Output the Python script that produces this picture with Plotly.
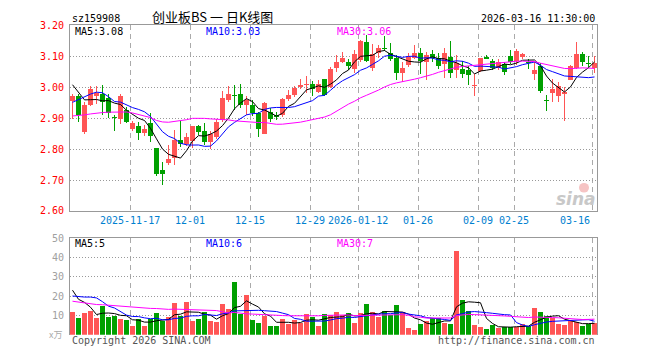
import pandas as pd
import plotly.graph_objects as go

# ---------------- data ----------------
holidays = ["2026-01-01", "2026-01-02", "2026-02-16", "2026-02-17", "2026-02-18",
            "2026-02-19", "2026-02-20", "2026-02-23"]
dates = [d.strftime("%Y-%m-%d") for d in pd.bdate_range("2025-11-03", "2026-03-16")
         if d.strftime("%Y-%m-%d") not in holidays]

tick_dates = ["2025-11-17", "2025-12-01", "2025-12-15", "2025-12-29", "2026-01-12",
              "2026-01-26", "2026-02-09", "2026-02-25", "2026-03-16"]
tick_text = ["2025-11-17", "12-01", "12-15", "12-29", "2026-01-12",
             "01-26", "02-09", "02-25", "03-16"]

open_ = [2.956, 2.970, 2.855, 2.941, 2.970, 2.979, 2.964, 2.905, 2.897, 2.925,
         2.866, 2.876, 2.852, 2.885, 2.802, 2.732, 2.755, 2.772, 2.829, 2.816,
         2.825, 2.876, 2.857, 2.823, 2.838, 2.893, 2.960, 2.976, 2.977, 2.942,
         2.943, 2.915, 2.848, 2.920, 2.909, 2.910, 2.963, 2.976, 3.000, 3.007,
         3.011, 2.984, 3.025, 3.001, 3.062, 3.080, 3.080, 3.058, 3.087, 3.145,
         3.062, 3.112, 3.125, 3.109, 3.096, 3.047, 3.072, 3.096, 3.111, 3.080,
         3.106, 3.096, 3.074, 3.097, 3.055, 3.059, 3.054, 3.005, 3.052, 3.099,
         3.085, 3.061, 3.075, 3.101, 3.084, 3.097, 3.080, 3.044, 3.070, 2.956,
         2.982, 2.973, 2.978, 3.024, 3.063, 3.106, 3.077, 3.062]
high = [2.977, 2.977, 2.951, 3.005, 3.005, 3.006, 2.977, 2.911, 2.977, 2.935,
        2.890, 2.889, 2.878, 2.915, 2.802, 2.758, 2.814, 2.862, 2.891, 2.852,
        2.876, 2.879, 2.885, 2.859, 2.897, 2.988, 3.003, 3.008, 3.011, 2.970,
        2.958, 2.920, 2.952, 2.932, 2.920, 2.966, 2.990, 3.003, 3.027, 3.037,
        3.019, 3.022, 3.026, 3.066, 3.105, 3.113, 3.091, 3.119, 3.153, 3.169,
        3.141, 3.138, 3.164, 3.143, 3.105, 3.080, 3.111, 3.137, 3.126, 3.114,
        3.120, 3.110, 3.126, 3.149, 3.103, 3.085, 3.070, 3.044, 3.096, 3.105,
        3.090, 3.090, 3.080, 3.120, 3.123, 3.112, 3.092, 3.081, 3.077, 2.976,
        3.025, 3.017, 3.000, 3.071, 3.146, 3.115, 3.102, 3.102]
low = [2.897, 2.886, 2.850, 2.939, 2.946, 2.911, 2.901, 2.857, 2.880, 2.883,
       2.859, 2.829, 2.842, 2.824, 2.714, 2.685, 2.748, 2.748, 2.807, 2.810,
       2.805, 2.845, 2.814, 2.800, 2.832, 2.889, 2.953, 2.925, 2.933, 2.909,
       2.908, 2.840, 2.848, 2.889, 2.894, 2.904, 2.956, 2.967, 2.995, 2.981,
       2.972, 2.980, 2.970, 2.999, 3.050, 3.078, 3.054, 3.045, 3.082, 3.080,
       3.053, 3.095, 3.118, 3.085, 3.023, 3.016, 3.065, 3.090, 3.044, 3.023,
       3.080, 3.060, 3.029, 3.029, 3.030, 3.030, 3.007, 2.971, 3.050, 3.090,
       3.055, 3.055, 3.040, 3.075, 3.071, 3.092, 3.060, 3.024, 2.981, 2.924,
       2.952, 2.952, 2.890, 3.023, 3.060, 3.070, 3.061, 3.045]
close = [2.972, 2.911, 2.943, 2.993, 2.982, 2.951, 2.915, 2.902, 2.970, 2.889,
         2.885, 2.852, 2.866, 2.842, 2.720, 2.720, 2.767, 2.829, 2.818, 2.839,
         2.876, 2.855, 2.822, 2.849, 2.889, 2.964, 2.977, 2.973, 2.941, 2.960,
         2.916, 2.864, 2.949, 2.897, 2.905, 2.963, 2.976, 2.999, 3.008, 3.011,
         2.993, 3.011, 2.974, 3.060, 3.080, 3.096, 3.067, 3.106, 3.150, 3.086,
         3.107, 3.127, 3.123, 3.090, 3.047, 3.061, 3.099, 3.111, 3.085, 3.103,
         3.093, 3.070, 3.109, 3.045, 3.078, 3.044, 3.039, 3.008, 3.093, 3.091,
         3.061, 3.080, 3.049, 3.082, 3.118, 3.107, 3.077, 3.056, 2.987, 2.954,
         2.993, 3.004, 2.985, 3.069, 3.106, 3.080, 3.075, 3.078]
volume = [11.5, 8.5, 11, 12.5, 8.5, 15, 9, 9.5, 8, 7.5,
          4.5, 8, 4.5, 8, 11, 7, 9, 16.5, 9.5, 17,
          7, 8, 11.5, 7, 6.5, 16, 13.5, 27, 10.5, 20.5,
          7.5, 6, 9.5, 4.5, 4.5, 8, 5.5, 7.5, 6, 10.5,
          9, 4.5, 10.5, 10, 11.5, 10, 11, 6, 11, 16,
          11.5, 9, 12.5, 10, 15.5, 11.5, 3.5, 2.5, 5.5, 7,
          8.5, 8.5, 6, 5.5, 43.5, 18, 12, 5, 4, 3,
          5, 3.5, 4, 4, 4, 5.5, 4.5, 14, 11.5, 9.5,
          8.5, 5.5, 5, 7, 6.5, 4.5, 5.5, 6]

# sessions before the visible window (only used to seed the moving averages)
pre_close = [2.87, 2.88, 2.90, 2.89, 2.91, 2.88, 2.89, 2.90,
             2.95, 2.98, 3.00, 3.01, 3.00, 3.00,
             2.86, 2.80, 2.76, 2.74, 2.74, 2.74,
             2.82, 2.86, 2.90, 2.92,
             2.971, 3.041, 3.058, 2.99, 2.979]
pre_volume = [22, 24, 26, 20, 18, 17, 15, 14, 16, 13, 15, 14, 12, 13, 15, 14, 12, 13, 12, 14,
              12, 13, 12.5, 13, 34.5, 32, 19, 25, 27.5]

ma_periods = [5, 10, 30]
ma_colors = ["#000000", "#0000ff", "#ff00ff"]
price_ma_text = ["MA5:3.08", "MA10:3.03", "MA30:3.06"]
vol_ma_text = ["MA5:5", "MA10:6", "MA30:7"]

# ---------------- geometry helpers ----------------
W, H = 660, 360
PL, PR = 70, 597
STEP = 6.0
MONO = "DejaVu Sans Mono"


def fx(px):
    return px / W


def fy(py):
    return 1 - py / H


n = len(dates)
xi = list(range(n))
x_lo = -(2.5 / STEP)
x_range = [x_lo, x_lo + (PR - PL) / STEP]
grid_x = [dates.index(d) - 2.5 / STEP for d in tick_dates]

RED, GREEN = "#ff5555", "#00a000"
colors = [RED if c >= o else GREEN for o, c in zip(open_, close)]

c_all = pd.Series(pre_close + close)
v_all = pd.Series(pre_volume + volume)
npre = len(pre_close)

fig = go.Figure()

# wicks
fig.add_trace(go.Bar(x=xi, base=low, y=[h - l for h, l in zip(high, low)], width=1 / STEP,
                     marker=dict(color=colors, line=dict(width=0)), xaxis="x", yaxis="y",
                     hoverinfo="skip"))
# bodies
fig.add_trace(go.Bar(x=xi, base=[min(o, c) for o, c in zip(open_, close)],
                     y=[max(abs(c - o), 0.0032) for o, c in zip(open_, close)],
                     width=5 / STEP, marker=dict(color=colors, line=dict(width=0)),
                     xaxis="x", yaxis="y"))
for p, col in zip(ma_periods, ma_colors):
    ma = c_all.rolling(p).mean().iloc[npre:].tolist()
    fig.add_trace(go.Scatter(x=xi, y=ma, mode="lines", line=dict(color=col, width=1),
                             xaxis="x", yaxis="y"))

# volume
fig.add_trace(go.Bar(x=xi, y=volume, width=5 / STEP, marker=dict(color=colors, line=dict(width=0)),
                     xaxis="x2", yaxis="y2"))
for p, col in zip(ma_periods, ma_colors):
    ma = v_all.rolling(p).mean().iloc[npre:].tolist()
    fig.add_trace(go.Scatter(x=xi, y=ma, mode="lines", line=dict(color=col, width=1),
                             xaxis="x2", yaxis="y2"))

common_x = dict(domain=[fx(PL), fx(PR)], range=x_range, tickvals=grid_x, showticklabels=False,
                ticks="", showgrid=True, gridcolor="#aaaaaa", griddash="5px,4px", gridwidth=1,
                zeroline=False, fixedrange=True)

annotations = []


def text(s, px, py, color="#000000", size=10, anchor="left", family=MONO, xref="paper", xv=None):
    annotations.append(dict(text=s, x=(fx(px) if xv is None else xv), y=fy(py), xref=xref,
                            yref="paper", xanchor=anchor, yanchor="middle", showarrow=False,
                            font=dict(family=family, size=size, color=color)))


text("sz159908", 70, 13)
text("创业板BS 一 日K线图", 150, 11, size=13, family="Noto Sans CJK SC")
text("2026-03-16 11:30:00", 597, 13, anchor="right")
for s, col, px in zip(price_ma_text, ma_colors, [73, 204, 335]):
    text(s, px, 26, color=col)
for s, col, px in zip(vol_ma_text, ma_colors, [73, 204, 335]):
    text(s, px, 245.5, color=col)
for j, (g, t) in enumerate(zip(grid_x, tick_text)):
    text(t, 0, 222, color="#0080d0", anchor=("right" if j == len(grid_x) - 1 else "center"),
         xref="x", xv=g)
text("Copyright 2026 SINA.COM", 70, 346.5, color="#555555")
text("http://finance.sina.com.cn", 597, 346.5, color="#555555", anchor="right")
text("x万", 64, 340, color="#aaaaaa", anchor="right", family="Noto Sans CJK SC", size=9)
# watermark
text("<b><i>sina</i></b>", 598, 200, color="#c8c8c8", size=17, anchor="right", family="DejaVu Sans")

# watermark logo "eye" (decoration)
shapes = [dict(type="circle", xref="paper", yref="paper", x0=fx(579), x1=fx(589),
               y0=fy(193), y1=fy(183), fillcolor="#f6c4c4", line=dict(width=0), layer="above")]

fig.update_layout(
    width=W, height=H, autosize=False,
    margin=dict(l=0, r=0, t=0, b=0, pad=0),
    paper_bgcolor="white", plot_bgcolor="white",
    barmode="overlay", bargap=0, showlegend=False,
    xaxis=dict(anchor="y", showline=True, mirror=True, linecolor="#999999", linewidth=1, **common_x),
    yaxis=dict(domain=[fy(212), fy(20)], range=[2.6, 3.2],
               tickvals=[2.6, 2.7, 2.8, 2.9, 3.0, 3.1, 3.2],
               ticktext=["2.60", "2.70", "2.80", "2.90", "3.00", "3.10", "3.20"],
               tickfont=dict(family=MONO, size=10, color="#ff0000"), ticks="",
               ticklabelstandoff=3, showgrid=True, gridcolor="#999999", griddash="1px,2px",
               zeroline=False, showline=True, mirror=True, linecolor="#999999", linewidth=1,
               fixedrange=True),
    xaxis2=dict(anchor="y2", side="top", showline=True, mirror=False, linecolor="#999999",
                linewidth=1, **common_x),
    yaxis2=dict(domain=[fy(340), fy(240)], range=[0, 50], tickvals=[10, 20, 30, 40, 50],
                ticktext=["10", "20", "30", "40", "50"],
                tickfont=dict(family=MONO, size=10, color="#a0a0a0"), ticks="",
                ticklabelstandoff=3, showgrid=True, gridcolor="#999999", griddash="1px,2px",
                zeroline=False, showline=True, mirror=True, linecolor="#999999", linewidth=1,
                fixedrange=True),
    annotations=annotations,
    shapes=shapes,
    hovermode=False,
)

fig.write_html("out.html", config={"displayModeBar": False, "staticPlot": True})
